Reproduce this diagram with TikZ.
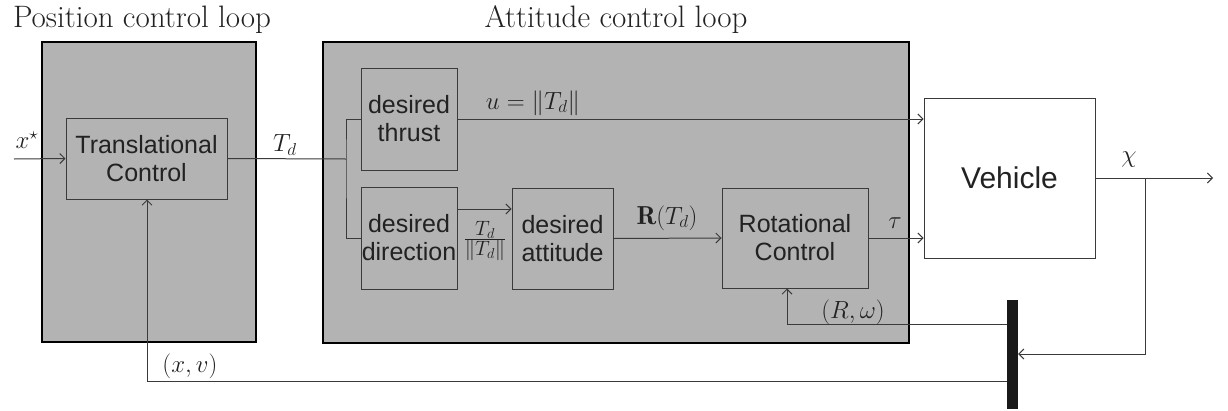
\documentclass[tikz,border=0pt]{standalone}
\usepackage{fontspec}
\newfontfamily\blockfont{Liberation Sans}
\usetikzlibrary{arrows.meta}
\definecolor{boxfill}{HTML}{B3B3B3}
\definecolor{linec}{HTML}{3A3A3A}
\definecolor{textc}{HTML}{222222}
\begin{document}
\begin{tikzpicture}[x=1pt,y=-1pt,
  blk/.style={draw=linec, line width=1pt, fill=boxfill, text=textc, align=center, inner sep=0pt,
    font=\blockfont\fontsize{25}{28}\selectfont},
  loopbox/.style={draw=black, line width=2pt, fill=boxfill, inner sep=0pt},
  conn/.style={draw=linec, line width=1pt},
  arr/.style={conn, -{Straight Barb[length=5pt,width=10pt]}},
  lbl/.style={text=textc, inner sep=0pt, font=\fontsize{26}{30}\selectfont},
  title/.style={text=textc, inner sep=0pt, font=\fontsize{31}{35}\selectfont},
]
\useasboundingbox (0,0) rectangle (1228,410);

% loop boxes
\node[loopbox, minimum width=214pt, minimum height=300pt] (pos) at (149,192) {};
\node[loopbox, minimum width=586pt, minimum height=301pt] (att) at (616,192.5) {};
\node[title] (postitle) at (142,20) {Position control loop};
\node[title] (atttitle) at (616,20) {Attitude control loop};

% blocks
\node[blk, minimum width=161pt, minimum height=81pt] (tc) at (146.5,158.5) {Translational\\Control};
\node[blk, minimum width=96pt, minimum height=102pt] (dt) at (409,119) {desired\\thrust};
\node[blk, minimum width=96pt, minimum height=102pt] (dd) at (409,238) {desired\\direction};
\node[blk, minimum width=101pt, minimum height=101pt] (da) at (562.5,238.5) {desired\\attitude};
\node[blk, minimum width=146pt, minimum height=100pt] (rc) at (795,238) {Rotational\\Control};
\node[blk, fill=white, minimum width=171pt, minimum height=160pt, font=\blockfont\fontsize{30}{34}\selectfont] (veh) at (1009.5,178) {Vehicle};
\node[fill=black!90, draw=none, minimum width=11pt, minimum height=109pt, inner sep=0pt] (bar) at (1012.5,354) {};

% coordinates
\coordinate (xin) at (14,159);
\coordinate (split) at (346,159);
\coordinate (out) at (1213,178);
\coordinate (tap) at (1145,178);
\coordinate (rwl) at (787,324);
\coordinate (xvl) at (147,381);

% connectors
\draw[arr] (xin) -- (tc.west);
\draw[conn] (tc.east) -- (split);
\draw[conn] (dt.west) -| (split) |- (dd.west);
\draw[arr] (dt.east) -- (dt.east -| veh.west);
\draw[arr] ([yshift=29pt]dd.east) -- ([yshift=29pt]dd.east -| da.west);
\draw[arr] (da.east) -- (rc.west);
\draw[arr] (rc.east) -- (rc.east -| veh.west);
\draw[arr] (veh.east) -- (out);
\draw[arr] (tap) |- (bar.east);
\draw[arr] (bar.west |- rwl) -| (rc.south -| rwl);
\draw[arr] (bar.west |- xvl) -| (tc.south -| xvl);

% labels
\node[lbl] (lxs) at (27,140) {$x^\star$};
\node[lbl] (ltd) at (285,145) {$T_d$};
\node[lbl] (lu) at (533,103) {$u=\|T_d\|$};
\node[lbl, font=\fontsize{31}{35}\selectfont] (lfrac) at (485,241) {$\frac{T_d}{\|T_d\|}$};
\node[lbl] (lr) at (667,218) {$\mathbf{R}(T_d)$};
\node[lbl] (ltau) at (895,223) {$\tau$};
\node[lbl] (lchi) at (1129,160) {$\chi$};
\node[lbl] (lrw) at (853,312) {$(R,\omega)$};
\node[lbl] (lxv) at (190,366) {$(x,v)$};
\end{tikzpicture}
\end{document}
